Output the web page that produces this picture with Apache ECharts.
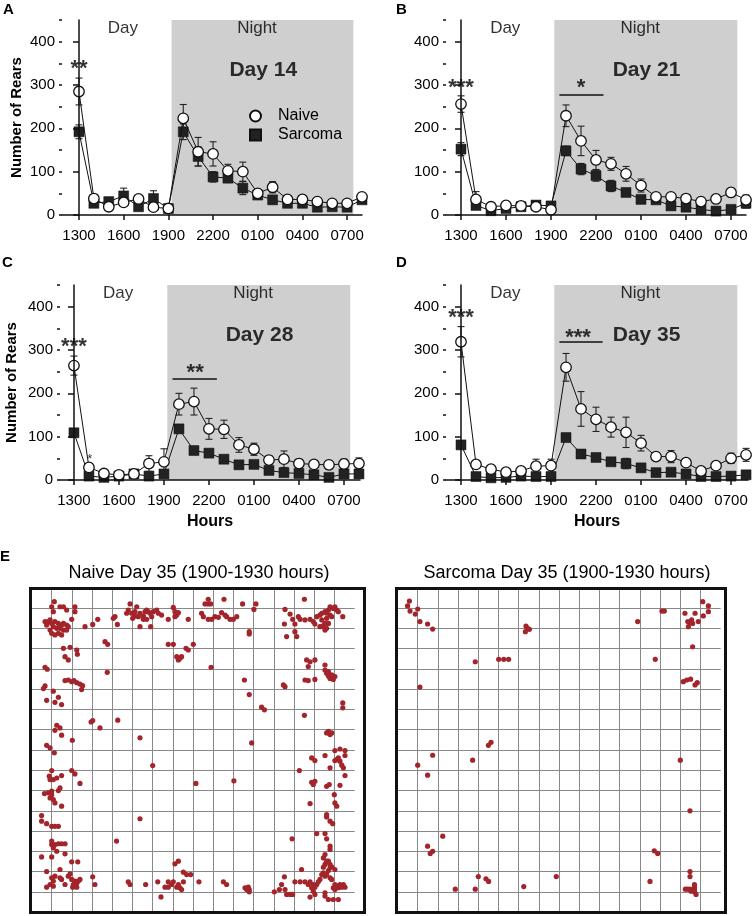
<!DOCTYPE html>
<html><head><meta charset="utf-8">
<script src="https://cdn.jsdelivr.net/npm/echarts@6/dist/echarts.min.js"></script>
<style>html,body{margin:0;padding:0;background:#fff}#c{width:752px;height:916px}</style>
</head><body><div id="c"></div><script>
// ---------- DATA ----------
const hourOffsets = [0,1,2,3,4,5,6,7,8,9,10,11,12,13,14,15,16,17,18,19]; // hours after 1300 (1300 ... 0800)
const tickHours = [0,3,6,9,12,15,18];
const tickLabels = ['1300','1600','1900','2200','0100','0400','0700'];
const yTickValues = [0,100,200,300,400];
const nightStart = 6.22, nightEnd = 18.42;

const naiveDay14      = [285,38,19,29,37,18,15,223,146,141,102,100,50,64,36,36,31,27,27,42];
const naiveDay14Sem   = [31,5,3,4,4,3,3,32,33,28,15,22,8,13,5,6,4,4,4,8];
const sarcomaDay14    = [192,27,31,44,19,38,15,192,135,88,85,62,46,35,27,27,18,19,18,35];
const sarcomaDay14Sem = [16,4,4,18,4,18,3,18,22,12,10,15,6,5,4,4,3,3,3,5];

const naiveDay21      = [256,36,19,22,21,19,12,229,171,127,118,95,68,42,42,38,31,37,52,35];
const naiveDay21Sem   = [19,18,4,4,4,4,4,25,34,22,15,17,15,6,6,5,5,6,9,11];
const sarcomaDay21    = [152,22,10,15,19,23,21,148,106,91,67,52,36,35,21,18,13,9,13,27];
const sarcomaDay21Sem = [15,6,4,4,4,5,4,11,13,13,13,6,6,5,4,4,3,3,4,11];

const naiveDay28      = [264,29,15,12,14,38,42,175,181,118,117,81,71,46,48,38,36,35,37,38];
const naiveDay28Sem   = [22,5,3,3,3,18,30,25,31,24,21,17,14,10,19,10,6,10,11,13];
const sarcomaDay28    = [109,9,6,9,14,9,14,118,68,62,48,35,36,22,17,15,12,6,14,14];
const sarcomaDay28Sem = [6,3,2,2,3,3,4,9,6,6,6,5,5,4,4,4,4,3,4,5];

const naiveDay35      = [319,36,25,18,21,32,33,260,164,140,122,110,85,54,54,40,21,33,50,58];
const naiveDay35Sem   = [35,6,4,4,4,16,15,32,40,28,23,35,18,9,14,6,4,6,12,15];
const sarcomaDay35    = [81,8,5,6,9,8,8,98,60,52,42,38,28,17,18,14,8,8,9,12];
const sarcomaDay35Sem = [5,3,2,2,3,3,3,6,6,5,5,12,5,4,4,3,3,3,3,4];

// rear positions in arena grid-cell units (x from left, y from top), Day 35, 1900-1930
const naiveRearPositions = [
[1.13,0.69],[1.00,0.94],[1.41,0.94],[1.58,0.94],[1.74,1.10],[2.15,0.94],[2.15,1.18],[1.08,1.18],
[0.67,1.67],[0.83,1.67],[0.92,1.59],[1.00,1.76],[0.75,1.84],[1.16,1.67],[1.33,1.76],[1.49,1.84],[1.58,1.76],[1.74,1.84],[1.08,1.92],[1.25,2.00],[1.41,2.00],[1.58,2.09],[0.92,2.09],[1.00,2.25],[1.16,2.33],[1.33,2.25],[1.49,2.33],[1.74,2.09],[1.82,1.92],[1.99,1.56],
[1.58,2.99],[1.91,2.94],[1.66,3.40],[1.82,3.56],[2.24,3.07],[2.27,3.28],
[2.65,1.92],[3.03,1.81],[3.28,1.56],[4.05,1.51],[4.13,1.43],[4.25,1.81],[3.64,2.66],[3.77,2.79],[3.75,4.17],
[0.67,3.92],[0.78,4.02],[0.67,4.84],[1.66,4.58],[1.82,4.55],[1.99,4.63],[2.10,4.58],[2.24,4.68],[2.40,4.75],[2.53,4.83],
[4.88,0.80],[5.21,0.94],[4.79,1.10],[4.96,1.26],[5.12,1.40],[5.29,1.43],[5.12,1.18],[5.37,1.26],[5.54,1.40],[5.70,1.10],[5.78,1.18],[5.87,1.26],[5.95,1.43],[6.03,1.18],[6.20,1.10],[6.28,1.26],[6.44,1.35],[5.54,1.56],[5.70,1.56],[5.37,1.92],[5.90,1.92],[5.62,1.18],[4.71,1.26],[5.01,1.51],
[6.77,1.56],[7.02,0.97],[7.10,1.18],[7.19,1.35],[7.27,1.23],[7.10,1.43],[7.76,1.56],
[6.77,2.79],[7.02,2.79],[7.19,3.40],[7.27,3.56],[7.35,3.48],[7.43,3.40],[7.65,2.99],[7.76,3.07],[8.01,2.79],
[8.42,1.26],[8.59,0.80],[8.75,0.57],[8.75,0.80],[8.87,0.80],[8.51,1.43],[8.75,1.56],[8.92,1.56],[9.08,1.43],[9.25,1.46],[9.41,1.23],[9.53,0.57],[9.58,1.35],[9.66,1.43],[9.83,1.56],[9.99,1.56],[10.16,1.43],
[8.89,3.92],[10.45,0.80],[11.11,0.80],[11.01,1.07],[10.78,2.17],[10.78,2.28],[10.54,4.55],
[12.55,1.07],[12.80,1.30],[12.93,1.56],[12.52,1.79],[13.04,1.79],[12.63,2.41],[13.04,2.17],[13.13,2.41],[13.21,1.43],[13.30,1.56],[13.54,1.59],[13.51,0.57],[13.79,1.56],[13.95,1.67],[14.03,1.79],[14.12,1.43],[14.28,1.35],[14.37,1.59],[14.28,1.92],[14.45,1.92],[14.53,1.76],[14.61,1.26],[14.70,1.10],[14.78,0.94],[14.86,1.43],[14.70,1.76],[14.61,2.00],[14.53,2.09],[14.45,1.87],[14.94,1.02],[15.02,0.94],[15.11,1.10],[15.19,1.18],[15.41,1.43],[14.78,1.35],[14.37,1.26],[14.53,1.18],[14.61,1.51],
[13.62,3.56],[13.79,3.65],[14.03,3.56],[13.70,3.89],[14.53,3.81],[14.53,4.06],[14.61,4.22],[14.70,4.35],[14.78,4.47],[14.94,4.52],[15.02,4.38],[14.86,4.30],[14.70,4.14],[13.54,4.55],[13.70,4.58],[14.03,4.52],[12.47,4.79],[12.55,4.88],
[0.59,4.97],[1.08,5.10],[1.33,5.40],[0.75,5.55],[1.16,5.65],[1.49,5.76],[2.48,5.02],[2.95,6.62],[3.03,6.55],[3.39,6.91],[4.27,6.53],
[1.25,6.78],[1.41,6.91],[1.16,7.03],[1.49,7.27],[2.02,7.52],[0.75,7.77],[0.92,7.90],[1.13,8.14],
[1.00,9.01],[0.88,9.29],[0.92,9.46],[1.08,9.46],[1.25,9.38],[1.49,9.26],[1.99,9.01],[2.15,9.18],[2.40,9.65],
[0.64,10.15],[0.83,10.11],[1.00,10.20],[0.92,10.36],[1.08,10.44],[1.16,10.61],[1.41,9.87],[1.33,10.00],[1.49,10.77],[1.00,10.03],
[0.50,11.23],[0.50,11.51],[0.75,11.63],[1.00,11.76],[1.16,11.76],[1.33,11.76],
[1.00,12.49],[1.00,12.66],[1.08,12.82],[1.16,12.66],[1.33,12.62],[1.49,12.62],[1.66,12.62],[1.25,12.99],[1.66,13.12],[0.50,13.27],[1.00,13.27],
[1.99,13.51],[2.29,13.51],
[0.75,13.99],[1.41,13.89],[1.00,14.30],[1.16,14.22],[1.41,14.30],[1.49,14.38],[1.08,14.46],[0.92,14.63],[0.75,14.76],[1.08,14.71],[1.66,14.63],[1.82,14.22],[1.91,14.10],[1.99,14.38],[2.15,14.46],[2.07,14.63],[2.24,14.55],[2.32,14.46],[2.40,14.38],[2.04,14.76],[2.24,14.76],
[3.03,14.25],[3.14,14.63],
[4.21,12.49],[5.37,7.40],[5.37,11.39],[6.00,8.77],[8.14,9.65],[10.02,9.52],[10.78,5.27],[11.39,5.89],[11.53,6.02],[10.90,7.65],
[4.79,14.50],[4.88,14.63],[5.65,14.63],[6.25,14.50],[6.41,15.24],[6.61,14.76],[6.77,14.50],[6.77,14.76],[6.94,14.63],[7.02,14.50],[7.19,14.76],[7.27,14.63],[7.35,14.79],[7.43,14.88],[7.52,14.50],[7.10,13.61],[7.27,13.48],[7.52,14.02],[7.68,14.14],[7.88,14.14],[8.29,14.50],[9.50,14.50],[9.66,14.63],
[10.57,14.79],[10.73,14.76],[10.78,14.88],[10.78,14.99],[10.65,14.88],
[12.02,14.99],[12.27,14.88],[12.38,14.63],[12.52,14.25],[12.55,14.88],[12.63,15.12],[12.80,15.12],[12.93,15.12],[12.90,12.38],[13.04,14.50],[13.30,14.50],[13.37,13.89],[13.51,6.29],
[13.54,14.50],[13.70,14.63],[13.79,14.50],[13.95,14.63],[13.87,14.79],[13.95,14.96],[14.03,14.76],[14.12,14.63],[14.20,14.50],[14.28,14.38],[14.37,14.14],[14.45,14.05],[14.53,14.22],[14.61,14.14],[14.70,13.94],[14.78,13.81],[14.86,13.76],[14.45,13.78],[14.53,13.64],[14.61,13.48],[14.45,13.32],[14.53,13.15],[14.70,13.48],[14.78,13.64],
[14.03,15.12],[13.79,15.25],[14.53,15.04],[14.53,15.20],[14.70,15.37],[14.94,15.37],[15.19,15.37],[14.78,14.30],[14.86,14.38],[14.94,14.79],[15.02,14.88],[15.11,14.71],[15.19,14.79],[15.27,14.63],[15.36,14.76],[15.52,14.76],[15.02,14.63],[15.44,14.63],[15.02,13.89],
[14.53,12.12],[14.61,12.38],[14.78,12.74],[14.78,12.90],[14.12,12.12],
[14.61,11.18],[14.61,11.30],[14.78,11.51],[14.91,11.63],[15.02,10.61],[15.11,10.77],[14.99,10.20],[14.74,9.70],[14.61,9.79],[15.27,9.74],[13.79,10.64],
[13.87,9.59],[13.95,9.70],[14.03,9.54],
[13.87,8.39],[14.03,8.52],[14.53,8.27],[14.78,8.88],[15.02,8.52],[15.11,8.47],[15.19,8.39],[15.27,8.55],[15.27,7.95],[15.52,8.03],[15.52,8.27],[15.36,8.75],[15.44,8.88],[15.52,9.26],[15.02,8.03],
[14.61,7.16],[14.78,7.24],[14.86,7.16],[14.70,7.08],[13.26,9.01],[15.41,5.68],[15.41,5.92]
];
const sarcomaRearPositions = [
[0.59,0.66],[0.50,0.90],[0.62,1.15],[0.88,1.30],[1.00,1.05],[1.11,1.67],[1.49,1.79],[1.74,2.04],
[6.36,1.89],[6.44,2.00],[6.33,2.17],[6.53,2.05],
[3.85,3.65],[5.01,3.53],[5.26,3.53],[5.50,3.53],
[11.89,1.67],[13.09,1.15],[13.21,1.15],[12.76,3.53],
[15.11,0.69],[15.39,0.90],[15.39,1.18],[14.23,1.26],[14.73,1.26],[14.56,1.59],[14.89,1.67],[15.14,1.39],[14.40,1.92],[14.48,1.72],[14.37,1.67],[14.61,1.76],
[14.61,2.91],
[14.15,4.63],[14.32,4.55],[14.51,4.51],[14.73,4.79],[14.84,4.68],
[1.11,4.90],
[1.00,8.75],[1.49,9.24],[1.74,8.26],[3.72,8.50],[4.50,7.77],[4.63,7.62],
[2.24,12.25],[1.49,12.74],[1.62,13.10],[1.74,12.99],
[2.86,14.86],[3.85,14.86],[4.00,14.24],[4.38,14.35],[4.51,14.48],[6.25,14.73],[7.86,14.24],
[12.50,14.48],[12.71,12.97],[12.88,13.10],
[14.00,8.50],[14.48,11.00],[14.48,13.99],[14.48,14.24],
[14.25,14.86],[14.37,14.86],[14.48,14.86],[14.53,14.96],[14.70,14.63],[14.70,14.76],[14.70,14.88],[14.70,14.99],[14.78,15.12]
];

// ---------- STYLE ----------
const FONT = '"Liberation Sans", Arial, Helvetica, sans-serif';
const INK = '#111111';
const TXT = '#000000';
const DOT = '#a3242a';

const panels = [
  {grid:{left:62,top:20,width:300,height:195}, xMin:-1.14, xMax:19.0,
   naive:naiveDay14, naiveSem:naiveDay14Sem, sarcoma:sarcomaDay14, sarcomaSem:sarcomaDay14Sem,
   dayLabel:'Day 14', yName:true, yNameGap:38, hours:false,
   stars:[{kind:'star',x:0,y:349,text:'**'}], bars:[]},
  {grid:{left:446,top:20,width:300,height:195}, xMin:-1.0, xMax:19.0,
   naive:naiveDay21, naiveSem:naiveDay21Sem, sarcoma:sarcomaDay21, sarcomaSem:sarcomaDay21Sem,
   dayLabel:'Day 21', yName:false, hours:false,
   stars:[{kind:'star',x:0,y:304,text:'***'},{kind:'star',x:8.0,y:304,text:'*'}], bars:[{x0:6.56,x1:9.5,y:278}]},
  {grid:{left:60,top:285,width:300,height:195}, xMin:-0.93, xMax:19.07,
   naive:naiveDay28, naiveSem:naiveDay28Sem, sarcoma:sarcomaDay28, sarcomaSem:sarcomaDay28Sem,
   dayLabel:'Day 28', yName:true, yNameGap:41, hours:true,
   stars:[{kind:'star',x:0,y:318,text:'***'},{kind:'small',x:1.05,y:54,text:'*'},{kind:'star',x:8.08,y:258,text:'**'}], bars:[{x0:6.57,x1:9.53,y:233}]},
  {grid:{left:446,top:285,width:302,height:195}, xMin:-1.0, xMax:19.13,
   naive:naiveDay35, naiveSem:naiveDay35Sem, sarcoma:sarcomaDay35, sarcomaSem:sarcomaDay35Sem,
   dayLabel:'Day 35', yName:false, hours:true,
   stars:[{kind:'star',x:0,y:385,text:'***'},{kind:'star',x:7.8,y:340,text:'***'}], bars:[{x0:6.56,x1:9.44,y:318}]}
];

const kindStyle = {
  period:{fontSize:17},
  day:{fontSize:21, fontWeight:'bold'},
  star:{fontSize:22, fontWeight:'bold', offset:[0,5]},
  small:{fontSize:13, offset:[0,3]}
};

const grids = [], xAxes = [], yAxes = [], series = [];
const axisLineStyle = {color:INK, width:1.5};

panels.forEach((p,i) => {
  grids.push(Object.assign({containLabel:false}, p.grid));
  xAxes.push({type:'value', gridIndex:i, min:p.xMin, max:p.xMax, z:10,
    axisLine:{show:true, onZero:false, lineStyle:axisLineStyle},
    axisTick:{show:true, length:5, customValues:tickHours, lineStyle:axisLineStyle},
    axisLabel:{show:true, customValues:tickHours, margin:13, color:TXT, fontSize:15, fontFamily:FONT,
      formatter:v => tickLabels[tickHours.indexOf(Math.round(v))] || ''},
    splitLine:{show:false},
    name:p.hours ? 'Hours' : '', nameLocation:'middle', nameGap:34,
    nameTextStyle:{fontSize:16, fontWeight:'bold', color:TXT, fontFamily:FONT}
  });
  yAxes.push({type:'value', gridIndex:i, position:'left', min:0, max:450, interval:100, z:10,
    axisLine:{show:true, lineStyle:axisLineStyle},
    axisTick:{show:true, length:6, customValues:yTickValues, lineStyle:axisLineStyle},
    axisLabel:{show:true, customValues:yTickValues, margin:7, color:TXT, fontSize:15, fontFamily:FONT},
    splitLine:{show:false},
    name:p.yName ? 'Number of Rears' : '', nameLocation:'middle', nameGap:p.yNameGap || 40,
    nameTextStyle:{fontSize:15, fontWeight:'bold', color:TXT, fontFamily:FONT}
  });
});
// minor y ticks (every 50)
panels.forEach((p,i) => {
  yAxes.push({type:'value', gridIndex:i, position:'left', offset:0, min:0, max:450, interval:50, z:10,
    axisLine:{show:false}, axisTick:{show:true, length:3, lineStyle:axisLineStyle},
    axisLabel:{show:false}, splitLine:{show:false}});
});

function errorSeries(xi, yi, vals, sems, z){
  return {type:'custom', xAxisIndex:xi, yAxisIndex:yi, z:z, silent:true,
    encode:{x:0, y:1},
    data: vals.map((v,k)=>[hourOffsets[k], v, sems[k]]),
    renderItem(params, api){
      const x = api.value(0), y = api.value(1), e = api.value(2);
      const top = api.coord([x, y + e]);
      const bot = api.coord([x, Math.max(0, y - e)]);
      const hw = 3.5, st = {stroke:'#222', lineWidth:1.1};
      return {type:'group', children:[
        {type:'line', shape:{x1:top[0], y1:top[1], x2:bot[0], y2:bot[1]}, style:st},
        {type:'line', shape:{x1:top[0]-hw, y1:top[1], x2:top[0]+hw, y2:top[1]}, style:st},
        {type:'line', shape:{x1:bot[0]-hw, y1:bot[1], x2:bot[0]+hw, y2:bot[1]}, style:st}
      ]};
    }};
}

panels.forEach((p,i) => {
  series.push({type:'line', name:'Sarcoma', xAxisIndex:i, yAxisIndex:i, z:3,
    data: hourOffsets.map((h,k)=>[h, p.sarcoma[k]]),
    symbol:'rect', symbolSize:10, showAllSymbol:true,
    itemStyle:{color:'#222222', borderColor:'#111', borderWidth:0.5},
    lineStyle:{color:INK, width:1},
    markArea:{silent:true, itemStyle:{color:'#cfcfcf', opacity:1},
      data:[[{xAxis:nightStart, yAxis:0},{xAxis:nightEnd, yAxis:450}]]}
  });
  series.push(errorSeries(i, i, p.sarcoma, p.sarcomaSem, 2));
  series.push(errorSeries(i, i, p.naive, p.naiveSem, 4));
  series.push({type:'line', name:'Naive', xAxisIndex:i, yAxisIndex:i, z:5,
    data: hourOffsets.map((h,k)=>[h, p.naive[k]]),
    symbol:'circle', symbolSize:10.5, showAllSymbol:true,
    itemStyle:{color:'#ffffff', borderColor:INK, borderWidth:1.3},
    lineStyle:{color:INK, width:1}
  });
  const items = [
    {kind:'period', x:2.95, y:431, text:'Day'},
    {kind:'period', x:11.95, y:431, text:'Night'},
    {kind:'day', x:12.37, y:333, text:p.dayLabel}
  ].concat(p.stars);
  const ann = {type:'scatter', xAxisIndex:i, yAxisIndex:i, symbolSize:0, silent:true, z:8,
    data: items.map(it => ({value:[it.x, it.y], name:it.text,
      label:Object.assign({show:true, position:'inside', formatter:'{b}', color:TXT, fontFamily:FONT}, kindStyle[it.kind])}))
  };
  if (p.bars.length) {
    ann.markLine = {silent:true, symbol:'none', label:{show:false}, animation:false,
      lineStyle:{color:INK, width:1.5, type:'solid'},
      data: p.bars.map(b => [{coord:[b.x0, b.y]}, {coord:[b.x1, b.y]}])};
  }
  series.push(ann);
});

// Panel E arenas
const arenas = [
  {grid:{left:31.5, top:587.7, width:323.2, height:324.6}, data:naiveRearPositions},
  {grid:{left:397.5, top:587.7, width:323.2, height:324.6}, data:sarcomaRearPositions}
];
arenas.forEach((a,j) => {
  const gi = grids.length;
  grids.push(a.grid);
  const gridLine = {show:true, showMinLine:false, showMaxLine:false, lineStyle:{color:'#888888', width:1}};
  xAxes.push({type:'value', gridIndex:gi, min:0, max:16, interval:1,
    axisLine:{show:false}, axisTick:{show:false}, axisLabel:{show:false}, splitLine:gridLine});
  yAxes.push({type:'value', gridIndex:gi, min:0, max:16, interval:1, inverse:true,
    axisLine:{show:false}, axisTick:{show:false}, axisLabel:{show:false}, splitLine:gridLine});
  series.push({type:'scatter', xAxisIndex:xAxes.length-1, yAxisIndex:yAxes.length-1, silent:true,
    data:a.data, symbol:'circle', symbolSize:5.2, itemStyle:{color:DOT, opacity:1}, z:5});
});

function txt(x, y, s, size, weight, align){
  return {type:'text', x:x, y:y, z:100, style:{text:s, fontSize:size, fontWeight:weight||'normal',
    fontFamily:FONT, fill:TXT, textAlign:align||'left', textVerticalAlign:'middle'}};
}

const option = {
  animation:false,
  backgroundColor:'#ffffff',
  textStyle:{fontFamily:FONT},
  grid:grids, xAxis:xAxes, yAxis:yAxes, series:series,
  legend:{data:[{name:'Naive', icon:'circle'},{name:'Sarcoma', icon:'rect'}],
    orient:'vertical', left:244, top:103, itemWidth:11, itemHeight:11, itemGap:3,
    selectedMode:false,
    textStyle:{fontSize:16, color:TXT, fontFamily:FONT, padding:[0,0,0,12]}},
  graphic:[
    txt(3, 10, 'A', 15, 'bold'), txt(396, 10, 'B', 15, 'bold'),
    txt(2, 263, 'C', 15, 'bold'), txt(396, 263, 'D', 15, 'bold'),
    txt(0, 557, 'E', 15, 'bold'),
    txt(199, 573, 'Naive Day 35 (1900-1930 hours)', 18, 'normal', 'center'),
    txt(567, 573, 'Sarcoma Day 35 (1900-1930 hours)', 18, 'normal', 'center'),
    {type:'rect', z:100, shape:{x:30.5, y:588.5, width:334, height:324}, style:{fill:null, stroke:'#111', lineWidth:3}},
    {type:'rect', z:100, shape:{x:396.5, y:588.5, width:329, height:324}, style:{fill:null, stroke:'#111', lineWidth:3}}
  ]
};

const chart = echarts.init(document.getElementById('c'), null, {renderer:'canvas'});
chart.setOption(option);
</script></body></html>
